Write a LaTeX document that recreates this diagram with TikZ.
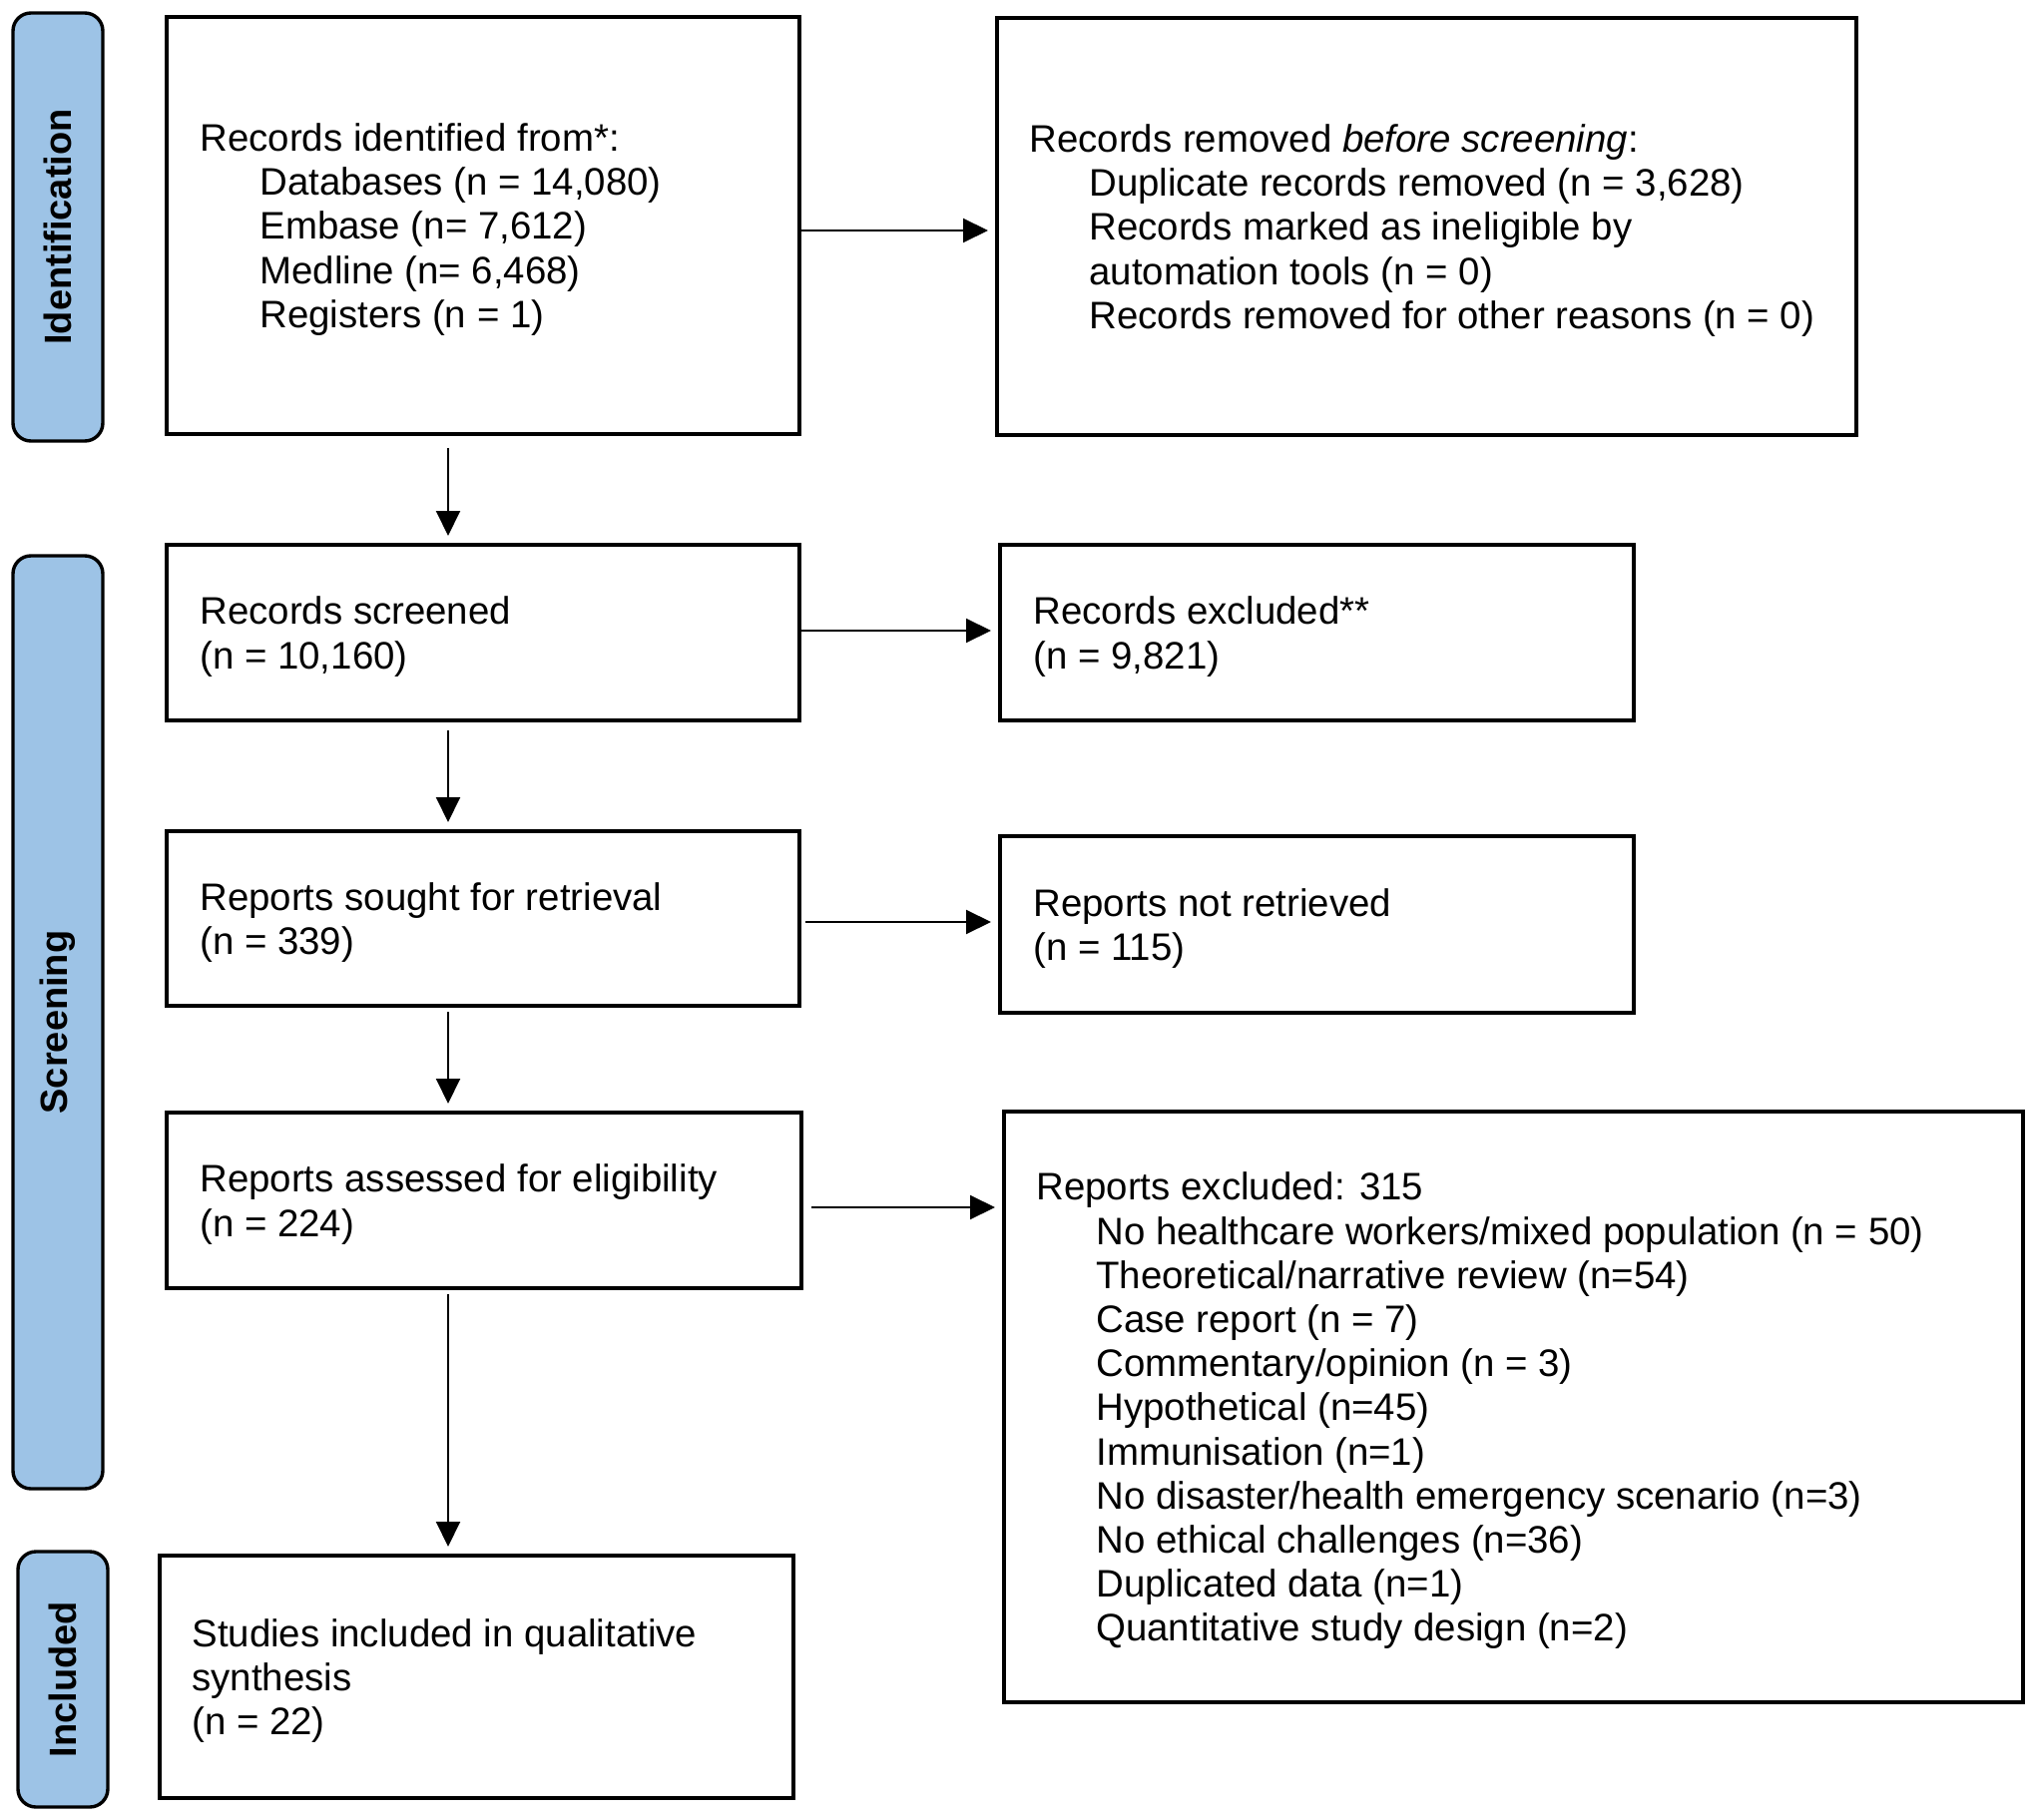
\documentclass[tikz,border=0pt]{standalone}
\usepackage{fontspec}
\setmainfont{Liberation Sans}
\usetikzlibrary{arrows.meta,calc}
\definecolor{pillblue}{RGB}{157,195,230}
\begin{document}
\begin{tikzpicture}[x=0.5pt,y=-0.5pt,
  box/.style={draw=black, line width=2pt, fill=white, inner sep=0pt},
  pill/.style={draw=black, line width=1.7pt, fill=pillblue, rounded corners=9pt, inner sep=0pt},
  txt/.style={anchor=west, align=left, inner sep=0pt, yshift=-2pt, font=\fontsize{19.2}{22.1}\selectfont},
  side/.style={rotate=90, font=\fontsize{19}{22}\selectfont\bfseries, inner sep=0pt},
  arr/.style={-{Triangle[length=12.5pt,width=12pt]}, line width=1pt, shorten <=0pt, shorten >=3.5pt},
]
\useasboundingbox (0,0) rectangle (2040,1824);
% side pills
\node[pill, minimum width=45pt, minimum height=214.5pt] (pid) at (58,227.5) {};
\node[side] (lid) at (pid.center) {Identification};
\node[pill, minimum width=45pt, minimum height=467.5pt] (psc) at (58,1024.5) {};
\node[side] (lsc) at (psc.center) {Screening};
\node[pill, minimum width=45pt, minimum height=128pt] (pin) at (63,1683) {};
\node[side] (lin) at (pin.center) {Included};
% boxes
\node[box, minimum width=317pt, minimum height=209pt] (b1) at (484,226) {};
\node[box, minimum width=430.5pt, minimum height=209pt] (b2) at (1429.5,227) {};
\node[box, minimum width=317pt, minimum height=88pt] (b3) at (484,634) {};
\node[box, minimum width=317.5pt, minimum height=88pt] (b4) at (1319.5,634) {};
\node[box, minimum width=317pt, minimum height=87.5pt] (b5) at (484,920.5) {};
\node[box, minimum width=317.5pt, minimum height=88.5pt] (b6) at (1319.5,926.5) {};
\node[box, minimum width=318pt, minimum height=88pt] (b7) at (485,1203) {};
\node[box, minimum width=510.5pt, minimum height=296pt] (b8) at (1516.5,1410) {};
\node[box, minimum width=317.5pt, minimum height=121.5pt] (b9) at (477.5,1680.5) {};
% texts
\node[txt] (t1) at ([xshift=17.5pt]b1.west) {Records identified from*:\\
\hspace*{30pt}Databases (n = 14,080)\\
\hspace*{30pt}Embase (n= 7,612)\\
\hspace*{30pt}Medline (n= 6,468)\\
\hspace*{30pt}Registers (n = 1)};
\node[txt] (t2) at ([xshift=17pt]b2.west) {Records removed \textit{before screening}:\\
\hspace*{30pt}Duplicate records removed (n = 3,628)\\
\hspace*{30pt}Records marked as ineligible by\\
\hspace*{30pt}automation tools (n = 0)\\
\hspace*{30pt}Records removed for other reasons (n = 0)};
\node[txt] (t3) at ([xshift=17.5pt]b3.west) {Records screened\\(n = 10,160)};
\node[txt] (t4) at ([xshift=17.5pt]b4.west) {Records excluded**\\(n = 9,821)};
\node[txt] (t5) at ([xshift=17.5pt]b5.west) {Reports sought for retrieval\\(n = 339)};
\node[txt] (t6) at ([xshift=17.5pt]b6.west) {Reports not retrieved\\(n = 115)};
\node[txt] (t7) at ([xshift=17.5pt]b7.west) {Reports assessed for eligibility\\(n = 224)};
\node[txt] (t8) at ([xshift=17pt]b8.west) {Reports excluded: 315\\
\hspace*{30pt}No healthcare workers/mixed population (n = 50)\\
\hspace*{30pt}Theoretical/narrative review (n=54)\\
\hspace*{30pt}Case report (n = 7)\\
\hspace*{30pt}Commentary/opinion (n = 3)\\
\hspace*{30pt}Hypothetical (n=45)\\
\hspace*{30pt}Immunisation (n=1)\\
\hspace*{30pt}No disaster/health emergency scenario (n=3)\\
\hspace*{30pt}No ethical challenges (n=36)\\
\hspace*{30pt}Duplicated data (n=1)\\
\hspace*{30pt}Quantitative study design (n=2)};
\node[txt] (t9) at ([xshift=17pt]b9.west) {Studies included in qualitative\\synthesis\\(n = 22)};
% connectors
\coordinate (ax) at (449,0);
\coordinate (h1) at (0,231);
\coordinate (h2) at (0,632);
\coordinate (h3) at (0,924);
\coordinate (h4) at (0,1210);
\draw[arr, shorten <=6pt] (b1.south -| ax) -- (b3.north -| ax);
\draw[arr, shorten <=4pt] (b3.south -| ax) -- (b5.north -| ax);
\draw[arr, shorten <=2pt] (b5.south -| ax) -- (b7.north -| ax);
\draw[arr, shorten <=2pt] (b7.south -| ax) -- (b9.north -| ax);
\draw[arr] (b1.east |- h1) -- (b2.west |- h1);
\draw[arr] (b3.east |- h2) -- (b4.west |- h2);
\draw[arr, shorten <=2pt] (b5.east |- h3) -- (b6.west |- h3);
\draw[arr, shorten <=4pt] (b7.east |- h4) -- (b8.west |- h4);
\end{tikzpicture}
\end{document}
